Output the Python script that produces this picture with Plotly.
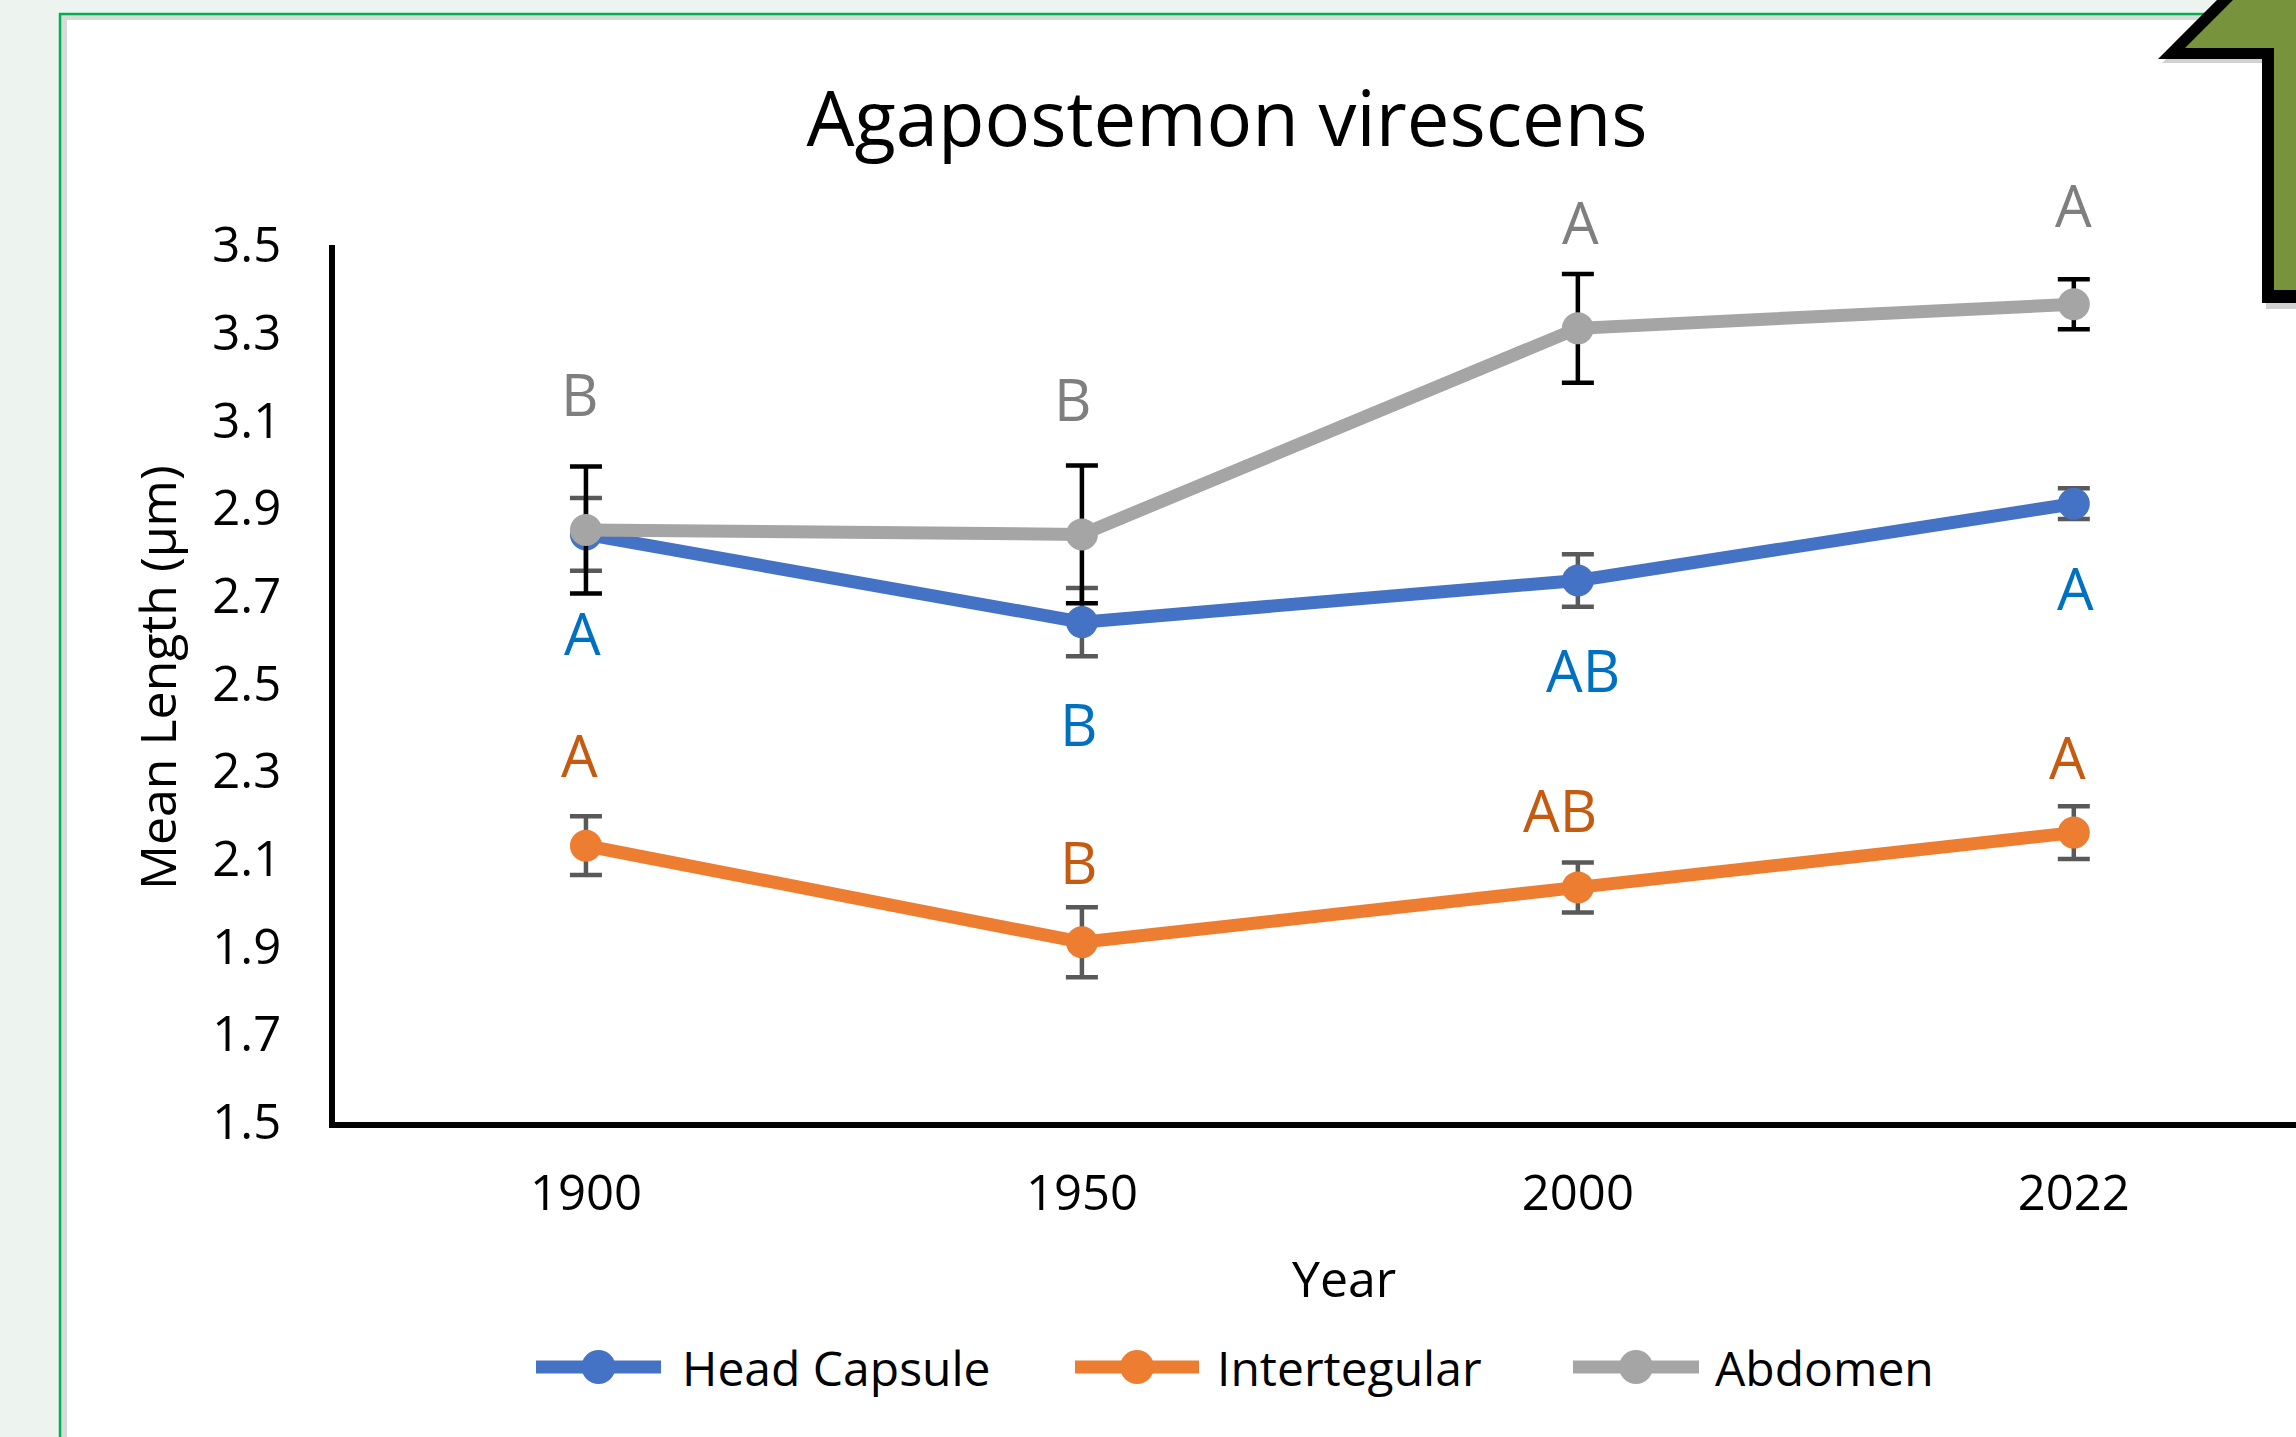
import plotly.graph_objects as go

# ---------------- data ----------------
years = ["1900", "1950", "2000", "2022"]
series_names = ["Head Capsule", "Intertegular", "Abdomen"]
head_capsule = [2.84, 2.64, 2.735, 2.91]
head_capsule_err = [0.083, 0.078, 0.06, 0.035]
intertegular = [2.13, 1.91, 2.035, 2.16]
intertegular_err = [0.067, 0.08, 0.057, 0.06]
abdomen = [2.85, 2.84, 3.31, 3.365]
abdomen_err = [0.145, 0.157, 0.124, 0.057]
head_letters = ["A", "B", "AB", "A"]
inter_letters = ["A", "B", "AB", "A"]
abd_letters = ["B", "B", "A", "A"]
y_ticks = [1.5, 1.7, 1.9, 2.1, 2.3, 2.5, 2.7, 2.9, 3.1, 3.3, 3.5]

# ---------------- layout geometry ----------------
W, H = 2296, 1437
L, R, T, B = 335, 0, 245, 315
PW, PH = W - L - R, H - T - B


def px(x):
    return (x - L) / PW


def py(y):
    return (H - B - y) / PH


FONT = "Open Sans"
BLUE, ORANGE, GRAY = "#4472C4", "#ED7D31", "#A5A5A5"
LBL_BLUE, LBL_ORANGE, LBL_GRAY = "#0070C0", "#C55A11", "#7F7F7F"

fig = go.Figure()

specs = [
    (head_capsule, head_capsule_err, BLUE, "#595959"),
    (intertegular, intertegular_err, ORANGE, "#595959"),
    (abdomen, abdomen_err, GRAY, "#000000"),
]
for name, (vals, errs, col, ecol) in zip(series_names, specs):
    fig.add_trace(go.Scatter(
        x=years, y=vals, name=name, mode="lines+markers",
        line=dict(color=col, width=13),
        marker=dict(color=col, size=32),
        error_y=dict(type="data", array=errs, color=ecol, thickness=4.5, width=16),
        showlegend=False,
    ))

# significance letters (offsets in pixels relative to each point)
letter_sets = [
    (head_letters, head_capsule, LBL_BLUE, [(-3, -98), (-3, -101), (5, -89), (2, -84)]),
    (inter_letters, intertegular, LBL_ORANGE, [(-6, 91), (-3, 81), (-18, 78), (-6, 76)]),
    (abd_letters, abdomen, LBL_GRAY, [(-6, 137), (-9, 136), (3, 107), (0, 100)]),
]
annotations = []
for letters, vals, col, offs in letter_sets:
    for i, (lt, v, (dx, dy)) in enumerate(zip(letters, vals, offs)):
        annotations.append(dict(
            x=i, y=v, xref="x", yref="y", text=lt, showarrow=False,
            xshift=dx, yshift=dy, xanchor="center", yanchor="middle",
            font=dict(family=FONT, size=58, color=col),
        ))

# axis titles
annotations.append(dict(x=px(1344), y=py(1278), xref="paper", yref="paper", text="Year",
                        showarrow=False, xanchor="center", yanchor="middle",
                        font=dict(family=FONT, size=50, color="#000000")))
annotations.append(dict(x=px(157), y=py(678), xref="paper", yref="paper", text="Mean Length (μm)",
                        showarrow=False, xanchor="center", yanchor="middle", textangle=-90,
                        font=dict(family=FONT, size=50, color="#000000")))

shapes = []
# background panel: green border + grey shadow + white sheet
shapes.append(dict(type="rect", xref="paper", yref="paper", layer="below",
                   x0=px(60), x1=px(2500), y0=py(14), y1=py(1600),
                   line=dict(color="#00B050", width=2.5), fillcolor="#D9D9D9"))
shapes.append(dict(type="rect", xref="paper", yref="paper", layer="below",
                   x0=px(67), x1=px(2500), y0=py(20), y1=py(1600),
                   line=dict(width=0), fillcolor="#FFFFFF"))


def poly(points):
    d = "M " + " L ".join(f"{px(a):.5f},{py(b):.5f}" for a, b in points) + " Z"
    return d


# green arrow (cropped) in the top-right corner
shapes.append(dict(type="path", xref="paper", yref="paper", layer="above",
                   path=poly([(2162, 63), (2222, 3), (2300, 3), (2300, 309), (2266, 309), (2266, 63)]),
                   fillcolor="rgba(0,0,0,0.18)", line=dict(width=0)))
shapes.append(dict(type="path", xref="paper", yref="paper", layer="above",
                   path=poly([(2158, 59), (2217, 0), (2300, 0), (2300, 303), (2262, 303), (2262, 59)]),
                   fillcolor="#000000", line=dict(width=0)))
shapes.append(dict(type="path", xref="paper", yref="paper", layer="above",
                   path=poly([(2185, 48), (2233, 0), (2300, 0), (2300, 290), (2274, 290), (2274, 48)]),
                   fillcolor="#77933C", line=dict(width=0)))

# custom legend
legend_items = [(530, 667, 680, BLUE), (1069, 1205, 1215, ORANGE), (1567, 1705, 1713, GRAY)]
LEG_Y = 1367
for name, (x0, x1, xt, col) in zip(series_names, legend_items):
    shapes.append(dict(type="line", xref="paper", yref="paper", layer="above",
                       x0=px(x0 + 6), x1=px(x1 - 6), y0=py(LEG_Y), y1=py(LEG_Y),
                       line=dict(color=col, width=13)))
    shapes.append(dict(type="circle", xref="paper", yref="paper", layer="above",
                       xsizemode="pixel", ysizemode="pixel",
                       xanchor=px((x0 + x1) / 2), yanchor=py(LEG_Y),
                       x0=-17, x1=17, y0=-17, y1=17,
                       fillcolor=col, line=dict(width=0)))
    annotations.append(dict(x=px(xt), y=py(LEG_Y), xref="paper", yref="paper", text=name,
                            showarrow=False, xanchor="left", yanchor="middle",
                            font=dict(family=FONT, size=48, color="#000000")))

fig.update_layout(
    width=W, height=H,
    margin=dict(l=L, r=R, t=T, b=B, pad=0),
    paper_bgcolor="#EDF4F0",
    plot_bgcolor="rgba(0,0,0,0)",
    title=dict(text="Agapostemon virescens", x=1227 / W, xref="container", xanchor="center",
               y=1 - 119 / H, yref="container", yanchor="middle",
               font=dict(family=FONT, size=76, color="#000000")),
    xaxis=dict(type="category", range=[-0.506, 3.448], showgrid=False, zeroline=False,
               showline=True, linecolor="#000000", linewidth=6, ticks="",
               tickfont=dict(family=FONT, size=49, color="#000000"),
               ticklabelstandoff=23),
    yaxis=dict(range=[1.5, 3.5], tickvals=y_ticks, ticktext=[f"{v:.1f}" for v in y_ticks],
               showgrid=False, zeroline=False, showline=True, linecolor="#000000",
               linewidth=6, ticks="", tickfont=dict(family=FONT, size=49, color="#000000"),
               ticklabelstandoff=38),
    annotations=annotations,
    shapes=shapes,
    showlegend=False,
)

fig.write_html("out.html", config={"displayModeBar": False},
               post_script="document.body.style.margin='0px';document.body.style.overflow='hidden';")
